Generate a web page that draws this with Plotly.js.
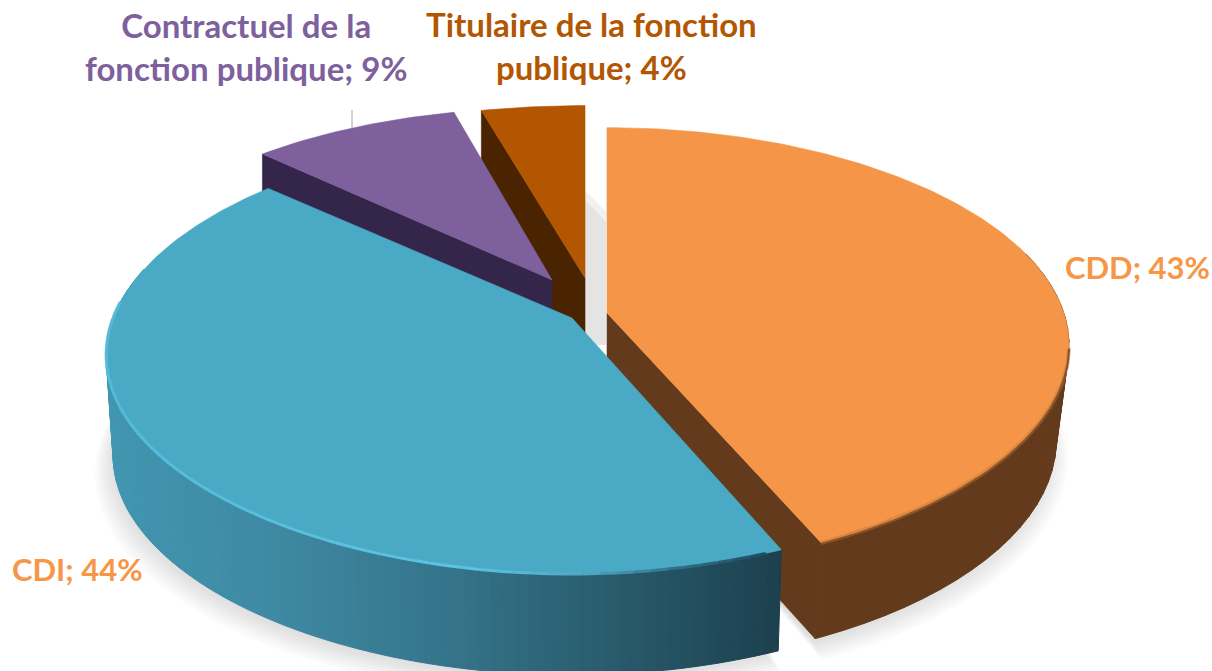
<!DOCTYPE html>
<html><head><meta charset="utf-8">
<script src="https://cdn.plot.ly/plotly-3.0.1.min.js"></script>
<style>html,body{margin:0;padding:0;background:#fff}#c{width:1212px;height:671px}</style>
</head><body><div id="c"></div>
<script>
// ---- data ----
const categories = ["CDD", "CDI", "Contractuel de la fonction publique", "Titulaire de la fonction publique"];
const shares = [43, 44, 9, 4];
const labelLines = [["CDD; 43%"], ["CDI; 44%"], ["Contractuel de la", "fonction publique; 9%"], ["Titulaire de la fonction", "publique; 4%"]];
const topColors = ["#F49547", "#4AA9C4", "#7D609C", "#B35602"];
const wallColors = ["#633A1C", "#3F8FAA", "#33264A", "#4A2300"];
const labelColors = ["#F79646", "#F79646", "#7D609C", "#B35602"];

// ---- projection of each exploded slice of the tilted pie ----
const geom = [
  {ax:607, ay:313, rx:460, ry:215, kx:.094, ky:.16, b:12, depth:96,  shrink:.972, d0:0, d1:0},
  {ax:572, ay:318, rx:465, ry:215, kx:.06,  ky:.16, b:24, depth:101, shrink:.985, d0:0, d1:3.8},
  {ax:552, ay:280, rx:440, ry:200, kx:.08,  ky:.16, b:6,  depth:98,  shrink:1, d0:2.7, d1:.5},
  {ax:585, ay:278, rx:440, ry:200, kx:.08,  ky:.16, b:0,  depth:98,  shrink:1, d0:-.3, d1:0}
];
const total = shares.reduce((a,b)=>a+b,0);
let cum = 0;
const spans = shares.map(v=>{const s=[cum/total*360,(cum+v)/total*360];cum+=v;return s;});
function pt(g,deg,bottom){
  const a=deg*Math.PI/180,u=Math.sin(a),v=Math.cos(a);
  let dx=g.rx*u/(1+g.kx*v), dy=-g.ry*v/(1+g.ky*v)+g.b*u*u;
  if(bottom){dx*=g.shrink;dy+=g.depth;}
  return [g.ax+dx,g.ay+dy];
}
function arc(g,a0,a1,bottom){const n=Math.max(2,Math.ceil(Math.abs(a1-a0)));const o=[];
  for(let i=0;i<=n;i++)o.push(pt(g,a0+(a1-a0)*i/n,bottom));return o;}
function poly(pts,color,opacity,lw){
  const c=pts.concat([pts[0]]);
  return {type:"scatter",mode:"lines",x:c.map(p=>p[0]),y:c.map(p=>p[1]),fill:"toself",fillcolor:color,
    opacity:opacity===undefined?1:opacity,line:{color:color,width:lw===undefined?0.6:lw},hoverinfo:"skip",showlegend:false};
}
function line(pts,color,w,opacity){
  return {type:"scatter",mode:"lines",x:pts.map(p=>p[0]),y:pts.map(p=>p[1]),line:{color:color,width:w},
    opacity:opacity===undefined?1:opacity,hoverinfo:"skip",showlegend:false};
}
function hex(c){return [1,3,5].map(i=>parseInt(c.substr(i,2),16));}
function ramp(stops,t){
  for(let i=1;i<stops.length;i++){ if(t<=stops[i][0]){
    const f=(t-stops[i-1][0])/(stops[i][0]-stops[i-1][0]),A=hex(stops[i-1][1]),B=hex(stops[i][1]);
    return "rgb("+A.map((x,j)=>Math.round(x+(B[j]-x)*f)).join(",")+")";}}
  return stops[stops.length-1][1];
}
const traces=[];
// soft ground shadow
function shadowOf(i,a0,a1){
  const g=geom[i];
  for(let s=0;s<7;s++){
    const gs=Object.assign({},g,{rx:g.rx*g.shrink+2+s*3.2,ry:g.ry+s*0.6,ax:g.ax-(i==1?4:-3),b:g.b});
    const o=arc(gs,a0,a1,true).map(p=>[p[0],p[1]+2+s*2.6]);
    o.push([g.ax,g.ay+g.depth]);
    traces.push(poly(o,"#8a8a8a",0.045,0));
  }
}
shadowOf(0,40,spans[0][1]);
shadowOf(1,spans[1][0],300);

function inner(i,deg,color){const g=geom[i],e=pt(g,deg,false),eb=pt(g,deg,true);
  return poly([[g.ax,g.ay],e,eb,[g.ax,g.ay+g.depth]],color);}
function topFace(i){const g=geom[i];const a=arc(g,spans[i][0]+g.d0,spans[i][1]+g.d1,false);
  return poly([[g.ax,g.ay]].concat(a),topColors[i]);}
function strip(g,d,d1,color,lw){return poly([pt(g,d,false),pt(g,d1,false),pt(g,d1,true),pt(g,d,true)],color,1,lw);}

// Titulaire
traces.push(inner(3,spans[3][0]+geom[3].d0,wallColors[3]));
traces.push(topFace(3));
// Contractuel
traces.push(inner(2,spans[2][0]+geom[2].d0,wallColors[2]));
traces.push(topFace(2));
// CDD
{const g=geom[0],a1=spans[0][1];
 traces.push(inner(0,a1,wallColors[0]));
 for(let d=70;d<a1;d+=3) traces.push(strip(g,d,Math.min(a1,d+3),wallColors[0],1));
 traces.push(topFace(0));
 const rim=arc(g,96,a1,false);
 traces.push(line(rim,"#C27C3C",4,.5));
 traces.push(line(rim.map(p=>[p[0],p[1]+1.4]),"#8A5226",2));
}
// CDI
{const g=geom[1],a0=spans[1][0];
 const stops=[[0,"#4296B0"],[.25,"#3E88A2"],[.5,"#35748A"],[.75,"#285A6B"],[1,"#1C3F4D"]];
 const xL=g.ax-g.rx,xR=pt(g,a0,false)[0];
 for(let d=290;d>a0;d-=1.5){
   const d1=Math.max(a0,d-1.5);
   const tt=(pt(g,d,false)[0]-xL)/(xR-xL);
   traces.push(strip(g,d,d1,ramp(stops,Math.max(0,Math.min(1,tt))),1));
 }
 traces.push(topFace(1));
 const rimStops=[[0,"#55BBD9"],[.55,"#5CC3E4"],[.72,"#4FA9C4"],[.86,"#2F6F85"],[1,"#20495A"]];
 for(let d=a0+2;d<280;d+=2){
   const p=[pt(g,d+2,false),pt(g,d,false)];
   const tt=(p[1][0]-xL)/(xR-xL);
   traces.push(line(p,ramp(rimStops,Math.max(0,Math.min(1,tt))),3));
 }
}
// labels
const labelPos=[{x:1137,y:267},{x:77.5,y:569},{x:246,y:46},{x:591,y:45}];
const labelSizes=[31,31,33,33];
const annotations=labelLines.map((l,i)=>({xref:"x",yref:"y",x:labelPos[i].x,y:labelPos[i].y,
  text:"<b>"+l.join("<br>")+"</b>",showarrow:false,align:"center",xanchor:"center",yanchor:"middle",
  font:{family:"Lato, 'Open Sans', sans-serif",size:labelSizes[i],color:labelColors[i]}}));

const layout={width:1212,height:671,margin:{l:0,r:0,t:0,b:0},paper_bgcolor:"#fff",plot_bgcolor:"#fff",showlegend:false,
  xaxis:{range:[0,1212],visible:false,fixedrange:true},
  yaxis:{range:[671,0],visible:false,fixedrange:true},
  annotations,
  shapes:[
   {type:"path",layer:"below",path:"M585,190 L606,212 L606,345 L585,345 Z",fillcolor:"#F1F1F1",line:{width:0}},
   {type:"path",layer:"below",path:"M585,200 L606,222 L606,345 L585,345 Z",fillcolor:"#E4E4E4",line:{width:0}},
   {type:"line",layer:"below",xref:"x",yref:"y",x0:352,x1:352,y0:110,y1:128,line:{color:"#A6A6A6",width:1}}
  ]};
Plotly.newPlot("c",traces,layout,{displayModeBar:false,staticPlot:true});
</script></body></html>
